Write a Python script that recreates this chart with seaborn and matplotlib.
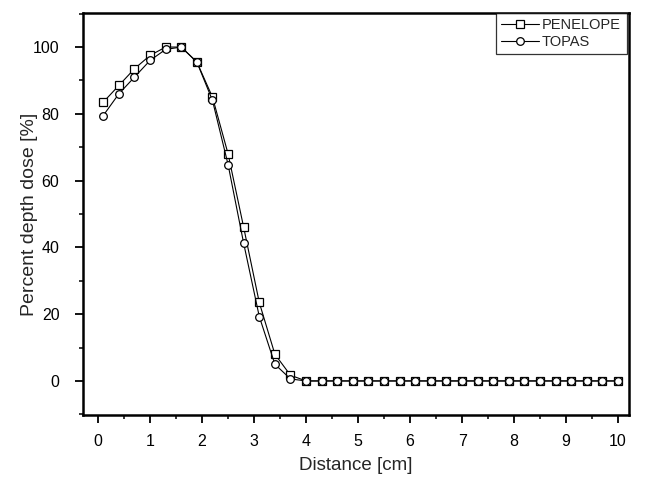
import numpy as np
import pandas as pd
import matplotlib
matplotlib.use("Agg")
import matplotlib.pyplot as plt
import seaborn as sns
from matplotlib.ticker import MultipleLocator

distance = [0.1, 0.4, 0.7, 1.0, 1.3, 1.6, 1.9, 2.2, 2.5, 2.8, 3.1, 3.4, 3.7,
            4.0, 4.3, 4.6, 4.9, 5.2, 5.5, 5.8, 6.1, 6.4, 6.7, 7.0, 7.3, 7.6,
            7.9, 8.2, 8.5, 8.8, 9.1, 9.4, 9.7, 10.0]
penelope = [83.5, 88.5, 93.5, 97.5, 100, 100, 95.5, 85, 68, 46, 23.5, 8, 1.7] + [0] * 21
topas = [79.5, 86, 91, 96, 99.3, 100, 95.5, 84, 64.8, 41.2, 19.3, 5, 0.6] + [0] * 21
series = ["PENELOPE", "TOPAS"]

df = pd.concat([
    pd.DataFrame({"Distance": distance, "PDD": penelope, "Series": series[0]}),
    pd.DataFrame({"Distance": distance, "PDD": topas, "Series": series[1]}),
])

sns.set_theme(style="ticks")
plt.rcParams["font.family"] = ["Liberation Sans", "DejaVu Sans"]

fig = plt.figure(figsize=(6.52, 4.90), dpi=100)
ax = fig.add_axes([83 / 652, 1 - 415 / 490, (629 - 83) / 652, (415 - 13) / 490])

sns.lineplot(data=df, x="Distance", y="PDD", style="Series",
             markers={"PENELOPE": "s", "TOPAS": "o"}, dashes=False,
             color="black", linewidth=0.8, markersize=5.5,
             markerfacecolor="white", markeredgecolor="black", markeredgewidth=0.9,
             ax=ax, legend=True)

ax.set_xlim(-0.29, 10.21)
ax.set_ylim(-10.2, 110.2)
ax.xaxis.set_major_locator(MultipleLocator(1))
ax.xaxis.set_minor_locator(MultipleLocator(0.5))
ax.yaxis.set_major_locator(MultipleLocator(20))
ax.yaxis.set_minor_locator(MultipleLocator(10))
ax.tick_params(which="major", direction="out", length=6, width=1.3, colors="black",
               labelsize=11.5)
ax.tick_params(axis="y", which="major", pad=11)
ax.tick_params(axis="x", which="major", pad=8)
ax.tick_params(which="minor", direction="out", length=3, width=1.3)
for s in ax.spines.values():
    s.set_visible(True)
    s.set_linewidth(1.8)
    s.set_color("black")

ax.set_xlabel("Distance [cm]", fontsize=13.5)
ax.set_ylabel("Percent depth dose [%]", fontsize=14)
ax.xaxis.set_label_coords(0.5, -0.104)
ax.yaxis.set_label_coords(-0.082, 0.5)

leg = ax.legend(loc="upper left",
                bbox_to_anchor=((496 - 83) / 546, (415 - 49) / 402,
                                (627 - 496) / 546, (49 - 13) / 402),
                mode="expand", fontsize=10.5,
                frameon=True, fancybox=False, edgecolor="black",
                handlelength=2.6, borderaxespad=0.0, labelspacing=0.2,
                handletextpad=0.2, borderpad=0.35)
leg.get_frame().set_linewidth(0.9)

fig.savefig("out.png", dpi=100)
